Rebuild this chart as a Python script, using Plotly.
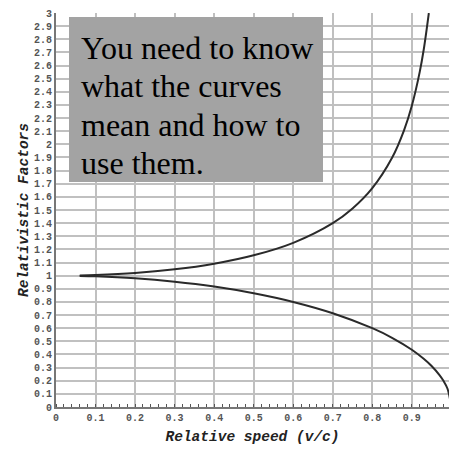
import plotly.graph_objects as go

# Relativistic factor curves
v_gamma = [0.06, 0.1, 0.2, 0.3, 0.4, 0.5, 0.6, 0.7, 0.75, 0.8, 0.85, 0.88, 0.9, 0.92, 0.93, 0.943]
gamma = [1.002, 1.005, 1.02, 1.048, 1.091, 1.155, 1.25, 1.40, 1.512, 1.667, 1.898, 2.105, 2.294, 2.552, 2.72, 3.0]

v_inv = [0.06, 0.1, 0.2, 0.3, 0.4, 0.5, 0.6, 0.7, 0.8, 0.85, 0.9, 0.93, 0.95, 0.97, 0.98, 0.99, 1.0]
inv_gamma = [0.998, 0.995, 0.98, 0.954, 0.917, 0.866, 0.8, 0.714, 0.6, 0.527, 0.436, 0.367, 0.312, 0.243, 0.199, 0.141, 0.0]

y_tick_vals = [i / 10 for i in range(31)]
y_tick_text = ["0"] + ["0." + str(i) for i in range(1, 10)] + ["1"] + ["1." + str(i) for i in range(1, 10)] + ["2"] + ["2." + str(i) for i in range(1, 10)] + ["3"]
x_tick_vals = [i / 10 for i in range(11)]
x_tick_text = ["0"] + ["0." + str(i) for i in range(1, 10)] + ["1"]

note_lines = ["You need to know", "what the curves", "mean and how to", "use them."]

W, H = 449, 452
L, T, B = 56, 13, 45
PW, PH = W - L, H - T - B


def px_x(p):
    return (p - L) / PW


def px_y(p):
    return (H - B - p) / PH


fig = go.Figure()
fig.add_trace(go.Scatter(x=v_gamma, y=gamma, mode="lines",
                         line=dict(color="#2a2a2a", width=2, shape="spline"), showlegend=False))
fig.add_trace(go.Scatter(x=v_inv, y=inv_gamma, mode="lines",
                         line=dict(color="#2a2a2a", width=2, shape="spline"), showlegend=False))

tickfont = dict(family="Liberation Mono", size=10, color="#555555", weight="bold")
titlefont = dict(family="Liberation Mono", size=14.5, color="#222222", weight="bold", style="italic")

annotations = []
for i, line in enumerate(note_lines):
    annotations.append(dict(text=line, xref="paper", yref="paper",
                            x=px_x(79), y=px_y(48 + 38.3 * i), xanchor="left", yanchor="middle",
                            align="left", showarrow=False,
                            font=dict(family="Liberation Serif", size=32, color="black")))

fig.update_layout(
    width=W, height=H,
    margin=dict(l=L, r=0, t=T, b=B, autoexpand=False),
    paper_bgcolor="white", plot_bgcolor="white",
    xaxis=dict(range=[0, 0.994], tickvals=x_tick_vals, ticktext=x_tick_text, automargin=False,
               showgrid=True, gridcolor="#c0c0c0", gridwidth=2,
               showline=True, linecolor="#777777", linewidth=2,
               ticks="", tickfont=tickfont, zeroline=False,
               minor=dict(dtick=0.02, tick0=0, ticks="inside", ticklen=3, tickcolor="#555555", showgrid=False),
               title=dict(text="Relative speed (v/c)", font=titlefont, standoff=8)),
    yaxis=dict(range=[0, 3], tickvals=y_tick_vals, ticktext=y_tick_text, automargin=False,
               showgrid=True, gridcolor="#c0c0c0", gridwidth=2,
               showline=True, linecolor="#777777", linewidth=2, mirror=True,
               ticks="", tickfont=tickfont, zeroline=False,
               title=dict(text="Relativistic Factors", font=titlefont, standoff=2)),
    shapes=[dict(type="rect", xref="paper", yref="paper",
                 x0=px_x(69), x1=px_x(323), y0=px_y(182), y1=px_y(17),
                 fillcolor="#a3a3a3", line=dict(width=0), layer="above")],
    annotations=annotations,
)

fig.write_html("out.html", config={"displayModeBar": False},
               post_script="document.body.style.margin='0';document.body.style.overflow='hidden';")
